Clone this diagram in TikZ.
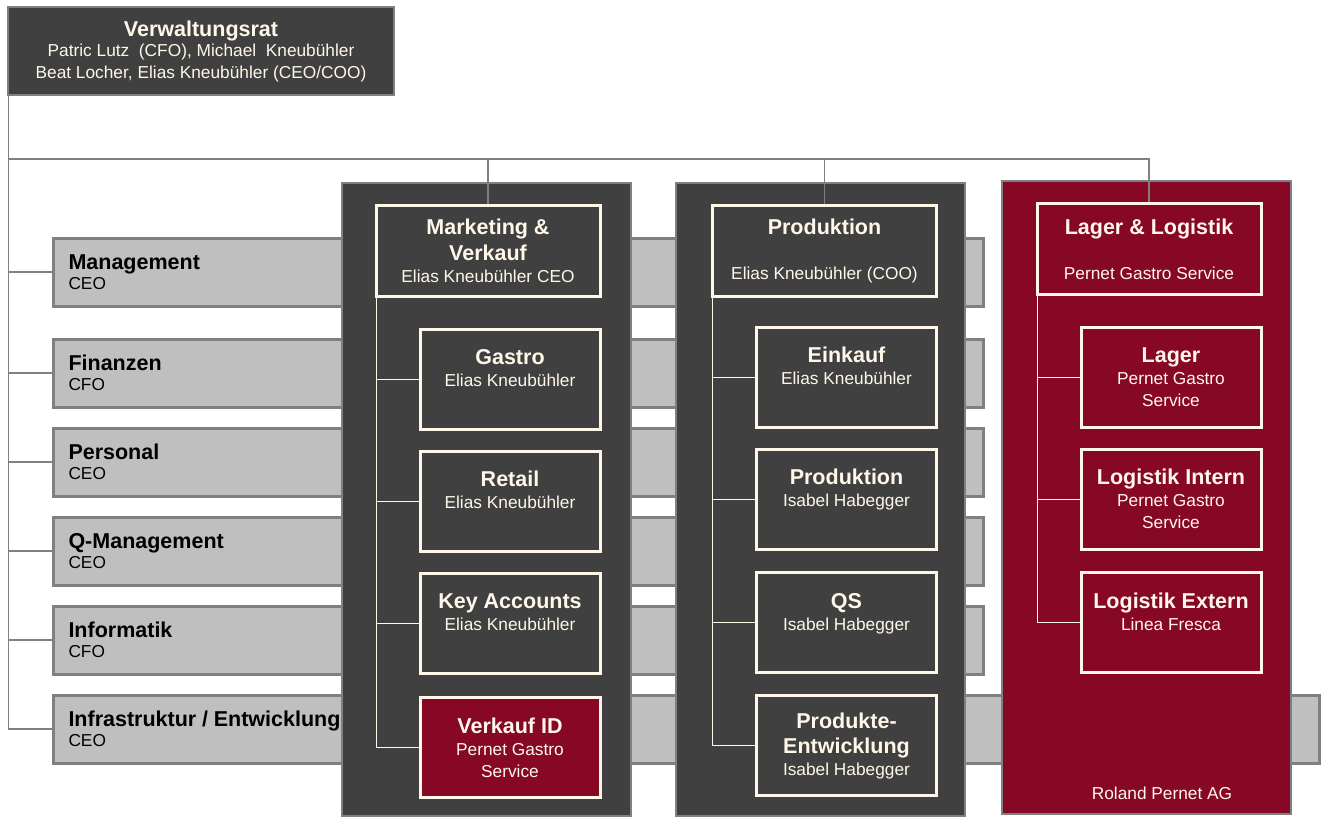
\documentclass[tikz,border=0pt]{standalone}
\usepackage{fontspec}
\setmainfont{Liberation Sans}
\usetikzlibrary{calc}
\definecolor{dgray}{RGB}{64,64,64}
\definecolor{bgray}{RGB}{128,128,128}
\definecolor{barfill}{RGB}{191,191,191}
\definecolor{wine}{RGB}{134,8,36}
\definecolor{cream}{RGB}{255,248,232}
\newcommand\tb{\fontsize{21.5}{26}\selectfont\bfseries}
\newcommand\tn{\fontsize{17.3}{22}\selectfont}
\tikzset{
  vrbox/.style={draw=bgray, line width=1.2, fill=dgray, text=cream, align=center, font=\tn},
  barbox/.style={draw=bgray, line width=3, fill=barfill, minimum height=68, anchor=west,
     align=left, inner xsep=9, font=\tn, text=black},
  colbox/.style={draw=bgray, line width=2.5, fill=dgray, minimum width=289, minimum height=633},
  headbox/.style={draw=cream, line width=3, fill=dgray, text=cream, align=center, font=\tn,
     minimum width=224, minimum height=91},
  subbox/.style={draw=cream, line width=3, fill=dgray, text=cream, align=center, font=\tn,
     minimum width=180, minimum height=100},
  org/.style={draw=bgray, line width=1.3},
  innerline/.style={draw=cream, line width=1}
}
\begin{document}
\begin{tikzpicture}[x=1pt,y=-1pt]
\useasboundingbox (0,0) rectangle (1324,822);
% board
\node[vrbox, minimum width=386, minimum height=88] (vr) at (201,51)
  {{\tb Verwaltungsrat}\\[-2pt]Patric Lutz\ \ (CFO), Michael\ \ Kneubühler\\Beat Locher, Elias Kneubühler (CEO/COO)};
% bars
\node[barbox, minimum width=930, text width=900] (mgmt) at (52,272) {{\tb Management}\\[-2pt]CEO};
\node[barbox, minimum width=930, text width=900] (fin) at (52,373) {{\tb Finanzen}\\[-2pt]CFO};
\node[barbox, minimum width=930, text width=900] (pers) at (52,462) {{\tb Personal}\\[-2pt]CEO};
\node[barbox, minimum width=930, text width=900] (qm) at (52,551) {{\tb Q-Management}\\[-2pt]CEO};
\node[barbox, minimum width=930, text width=900] (inf) at (52,640) {{\tb Informatik}\\[-2pt]CFO};
\node[barbox, minimum width=1266, text width=1236] (infra) at (52,729) {{\tb Infrastruktur / Entwicklung}\\[-2pt]CEO};
% columns
\node[colbox] (c1) at (486.5,499.5) {};
\node[colbox] (c2) at (820.5,499.5) {};
\node[colbox, fill=wine] (c3) at (1146.5,497.5) {};
% headers
\node[headbox] (mk) at (488,250.5) {{\tb Marketing \&}\\[4pt]{\tb Verkauf}\\Elias Kneubühler CEO};
\node[headbox] (pr) at (824.5,250.5) {{\tb Produktion}\\[1pt]\\Elias Kneubühler (COO)};
\node[headbox, fill=wine] (ll) at (1149,249) {{\tb Lager \& Logistik}\\[1pt]\\Pernet Gastro Service};
% column 1
\node[subbox] (ga) at (510,379) {{\tb Gastro}\\Elias Kneubühler\\\mbox{}};
\node[subbox] (re) at (510,501) {{\tb Retail}\\Elias Kneubühler\\\mbox{}};
\node[subbox] (ka) at (510,623.5) {{\tb Key Accounts}\\Elias Kneubühler\\\mbox{}};
\node[subbox, fill=wine] (vid) at (510,747.5) {{\tb Verkauf ID}\\Pernet Gastro\\Service};
% column 2
\node[subbox] (ek) at (846.5,377) {{\tb Einkauf}\\Elias Kneubühler\\\mbox{}};
\node[subbox] (pd) at (846.5,499) {{\tb Produktion}\\Isabel Habegger\\\mbox{}};
\node[subbox] (qs) at (846.5,622.5) {{\tb QS}\\Isabel Habegger\\\mbox{}};
\node[subbox] (pe) at (846.5,745.5) {{\tb Produkte-}\\[3pt]{\tb Entwicklung}\\Isabel Habegger};
% column 3
\node[subbox, fill=wine] (lg) at (1171,377) {{\tb Lager}\\Pernet Gastro\\Service};
\node[subbox, fill=wine] (li) at (1171,499) {{\tb Logistik Intern}\\Pernet Gastro\\Service};
\node[subbox, fill=wine] (le) at (1171,622.5) {{\tb Logistik Extern}\\Linea Fresca\\\mbox{}};
\node[text=cream, font=\tn] (rp) at (1162,793) {Roland Pernet AG};
% org lines
\coordinate (hub) at (9,159);
\draw[org] ([xshift=1]vr.south west) |- (mgmt.west);
\draw[org] ([xshift=1]vr.south west) |- (fin.west);
\draw[org] ([xshift=1]vr.south west) |- (pers.west);
\draw[org] ([xshift=1]vr.south west) |- (qm.west);
\draw[org] ([xshift=1]vr.south west) |- (inf.west);
\draw[org] ([xshift=1]vr.south west) |- (infra.west);
\draw[org] (hub) -| (mk.north);
\draw[org] (hub) -| (pr.north);
\draw[org] (hub) -| (ll.north);
% inner lines
\foreach \s in {ga,re,ka,vid} \draw[innerline] ([xshift=1.5]mk.south west) |- (\s.west);
\foreach \s in {ek,pd,qs,pe} \draw[innerline] ([xshift=1.5]pr.south west) |- (\s.west);
\foreach \s in {lg,li,le} \draw[innerline] ([xshift=1.5]ll.south west) |- (\s.west);
\end{tikzpicture}
\end{document}
